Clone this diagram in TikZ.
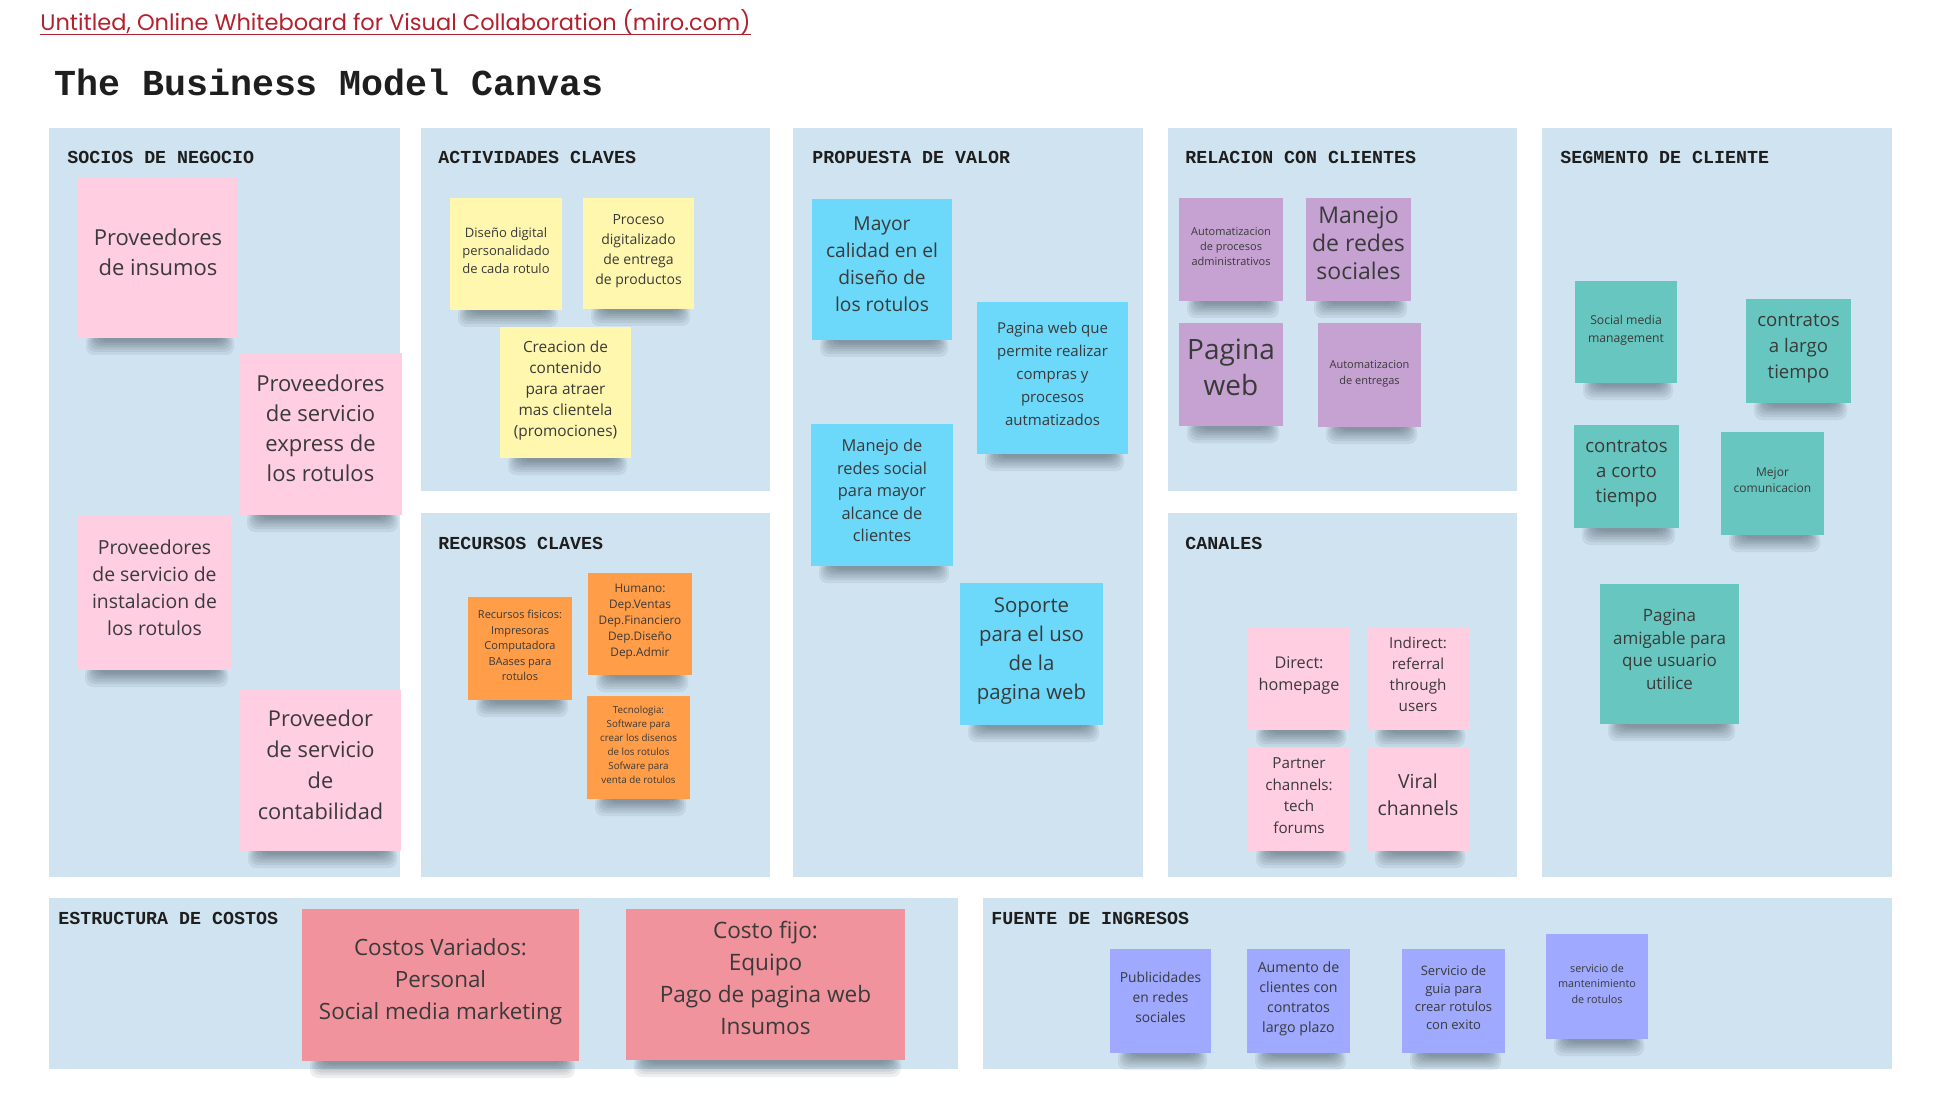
\documentclass[tikz,border=0pt]{standalone}
\usepackage{fontspec}
\setmainfont{Open Sans}
\newfontfamily\hdrfont{Liberation Mono}
\newfontfamily\linkfont{Poppins}

\definecolor{panelbg}{HTML}{CFE3F0}
\definecolor{ink}{HTML}{3A3A3A}
\definecolor{hdrink}{HTML}{1E1E1E}
\definecolor{linkred}{HTML}{B3202E}
\definecolor{shadowc}{HTML}{2B3744}
\definecolor{cpink}{HTML}{FFCEE0}
\definecolor{cyellow}{HTML}{FFF7AE}
\definecolor{corange}{HTML}{FF9D48}
\definecolor{cblue}{HTML}{6CD8FA}
\definecolor{cviolet}{HTML}{C6A2D2}
\definecolor{ccyan}{HTML}{67C6C0}
\definecolor{cred}{HTML}{F0939D}
\definecolor{cdblue}{HTML}{9EA9FF}

\tikzset{
  panel/.style={fill=panelbg, draw=none},
  hdr/.style={anchor=base west, inner sep=0pt, text=hdrink, font=\hdrfont\bfseries\fontsize{9.15}{11}\selectfont},
  note/.style={rectangle, inner sep=0pt, align=center, text=ink},
  shadowlayer/.style={fill=shadowc, draw=none, rounded corners=4pt, opacity=0.08}
}

\newcommand\stickynote[9]{%
  \fill[shadowlayer] ({#2+8},{#5-4}) rectangle ({#4-4},{#5+17});
  \fill[shadowlayer] ({#2+10},{#5-4}) rectangle ({#4-6},{#5+14});
  \fill[shadowlayer] ({#2+12},{#5-4}) rectangle ({#4-8},{#5+11.5});
  \fill[shadowlayer] ({#2+14},{#5-4}) rectangle ({#4-10},{#5+9});
  \fill[shadowlayer] ({#2+16},{#5-4}) rectangle ({#4-12},{#5+7});
  \fill[shadowlayer] ({#2+19},{#5-4}) rectangle ({#4-14},{#5+5});
  \fill[shadowlayer] ({#2+22},{#5-4}) rectangle ({#4-17},{#5+3.5});
  \node[note, fill=#6, minimum width={(#4-#2)*0.5pt}, minimum height={(#5-#3)*0.5pt},
        font={\fontsize{#7}{#8}\selectfont}, text depth={#7*0.55pt}]
    (#1) at ({(#2+#4)/2},{(#3+#5)/2}) {#9};}

\begin{document}
\begin{tikzpicture}[x=0.5pt, y=-0.5pt]
\useasboundingbox (0,0) rectangle (1958,1096);
\fill[white] (0,0) rectangle (1958,1096);

% link and title
\node[anchor=base west, inner sep=0pt, text=linkred] (link) at (40,31)
  {\linkfont\fontsize{11.25}{13}\selectfont Untitled, Online Whiteboard for Visual Collaboration (miro.com)};
\draw[linkred, line width=0.6pt] ([yshift=-1.6pt]link.base west) -- ([yshift=-1.6pt]link.base east);
\node[anchor=base west, inner sep=0pt, text=hdrink] (title) at (54,96)
  {\hdrfont\bfseries\fontsize{18.3}{20}\selectfont The Business Model Canvas};

% panels
\fill[panel] (49,128) rectangle (400,877);
\fill[panel] (421,128) rectangle (770,491);
\fill[panel] (421,513) rectangle (770,877);
\fill[panel] (793,128) rectangle (1143,877);
\fill[panel] (1168,128) rectangle (1517,491);
\fill[panel] (1168,513) rectangle (1517,877);
\fill[panel] (1542,128) rectangle (1892,877);
\fill[panel] (49,898) rectangle (958,1069);
\fill[panel] (983,898) rectangle (1892,1069);

% headers
\node[hdr] (hsocios) at (67,164) {SOCIOS DE NEGOCIO};
\node[hdr] (hact) at (438,164) {ACTIVIDADES CLAVES};
\node[hdr] (hrec) at (438,549) {RECURSOS CLAVES};
\node[hdr] (hprop) at (812,164) {PROPUESTA DE VALOR};
\node[hdr] (hrel) at (1185,164) {RELACION CON CLIENTES};
\node[hdr] (hcan) at (1185,549) {CANALES};
\node[hdr] (hseg) at (1560,164) {SEGMENTO DE CLIENTE};
\node[hdr] (hest) at (58,924) {ESTRUCTURA DE COSTOS};
\node[hdr] (hfue) at (991,924) {FUENTE DE INGRESOS};

% socios
\stickynote{s1}{78}{178}{238}{338}{cpink}{11}{15}{Proveedores\\de insumos}
\stickynote{s2}{239}{353}{402}{515}{cpink}{11}{15}{Proveedores\\de servicio\\express de\\los rotulos}
\stickynote{s3}{77}{515}{232}{670}{cpink}{9.7}{13.5}{Proveedores\\de servicio de\\instalacion de\\los rotulos}
\stickynote{s4}{240}{690}{401}{851}{cpink}{10.9}{15.5}{Proveedor\\de servicio\\de\\contabilidad}

% actividades
\stickynote{a1}{450}{198}{562}{310}{cyellow}{6.5}{9}{Diseño digital\\personalidado\\de cada rotulo}
\stickynote{a2}{583}{198}{694}{309}{cyellow}{7}{10}{Proceso\\digitalizado\\de entrega\\de productos}
\stickynote{a3}{500}{327}{631}{458}{cyellow}{7.7}{10.5}{Creacion de\\contenido\\para atraer\\mas clientela\\(promociones)}

% recursos
\stickynote{r1}{468}{597}{572}{700}{corange}{5.5}{7.75}{Recursos fisicos:\\Impresoras\\Computadora\\BAases para\\rotulos}
\stickynote{r2}{588}{573}{692}{675}{corange}{5.9}{8}{Humano:\\Dep.Ventas\\Dep.Financiero\\Dep.Diseño\\Dep.Admir}
\stickynote{r3}{587}{696}{690}{799}{corange}{4.9}{7}{Tecnologia:\\Software para\\crear los disenos\\de los rotulos\\Sofware para\\venta de rotulos}

% propuesta
\stickynote{p1}{812}{199}{952}{340}{cblue}{9.6}{13.5}{Mayor\\calidad en el\\diseño de\\los rotulos}
\stickynote{p2}{977}{302}{1128}{454}{cblue}{7.5}{11.5}{Pagina web que\\permite realizar\\compras y\\procesos\\autmatizados}
\stickynote{p3}{811}{424}{953}{566}{cblue}{8.2}{11.25}{Manejo de\\redes social\\para mayor\\alcance de\\clientes}
\stickynote{p4}{960}{583}{1103}{725}{cblue}{10.2}{14.5}{Soporte\\para el uso\\de la\\pagina web}

% relacion
\stickynote{c1}{1179}{198}{1283}{301}{cviolet}{5.5}{7.5}{Automatizacion\\de procesos\\administrativos}
\stickynote{c2}{1306}{198}{1411}{301}{cviolet}{11.5}{14}{Manejo\\de redes\\sociales}
\stickynote{c3}{1179}{323}{1283}{426}{cviolet}{14}{18}{Pagina\\web}
\stickynote{c4}{1318}{323}{1421}{427}{cviolet}{5.5}{8}{Automatizacion\\de entregas}

% canales
\stickynote{k1}{1248}{627}{1350}{730}{cpink}{8.1}{11}{Direct:\\homepage}
\stickynote{k2}{1367}{627}{1469}{730}{cpink}{7.6}{10.5}{Indirect:\\referral\\through\\users}
\stickynote{k3}{1248}{748}{1350}{851}{cpink}{7.6}{10.75}{Partner\\channels:\\tech\\forums}
\stickynote{k4}{1367}{748}{1469}{851}{cpink}{9.7}{13.5}{Viral\\channels}

% segmento
\stickynote{g1}{1575}{281}{1677}{383}{ccyan}{6.1}{9}{Social media\\management}
\stickynote{g2}{1746}{299}{1851}{403}{ccyan}{9.3}{13}{contratos\\a largo\\tiempo}
\stickynote{g3}{1574}{425}{1679}{528}{ccyan}{9.3}{12.5}{contratos\\a corto\\tiempo}
\stickynote{g4}{1721}{432}{1824}{535}{ccyan}{6}{7.75}{Mejor\\comunicacion}
\stickynote{g5}{1600}{584}{1739}{724}{ccyan}{8.5}{11.25}{Pagina\\amigable para\\que usuario\\utilice}

% estructura
\stickynote{e1}{302}{909}{579}{1061}{cred}{11.2}{16}{Costos Variados:\\Personal\\Social media marketing}
\stickynote{e2}{626}{909}{905}{1060}{cred}{11.3}{16}{Costo fijo:\\Equipo\\Pago de pagina web\\Insumos}

% fuente
\stickynote{f1}{1110}{949}{1211}{1053}{cdblue}{6.9}{10}{Publicidades\\en redes\\sociales}
\stickynote{f2}{1247}{949}{1350}{1053}{cdblue}{7.1}{10}{Aumento de\\clientes con\\contratos\\largo plazo}
\stickynote{f3}{1402}{949}{1505}{1053}{cdblue}{6.5}{9}{Servicio de\\guia para\\crear rotulos\\con exito}
\stickynote{f4}{1546}{934}{1648}{1039}{cdblue}{5.4}{7.75}{servicio de\\mantenimiento\\de rotulos}
\end{tikzpicture}
\end{document}
